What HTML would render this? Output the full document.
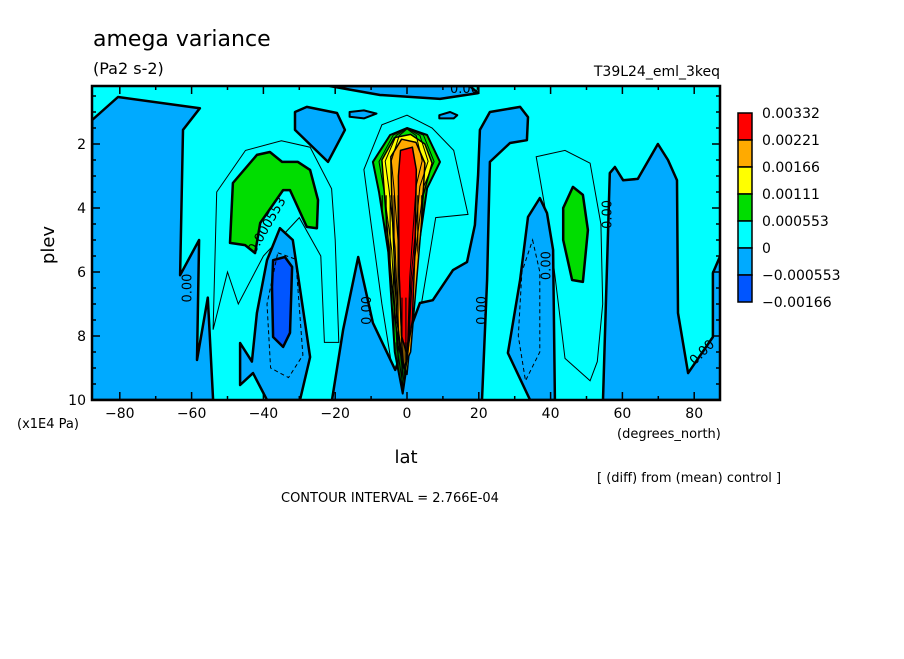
<!DOCTYPE html>
<html><head><meta charset="utf-8"><style>
body{margin:0;background:#fff;width:904px;height:654px;overflow:hidden}
svg text{font-family:"DejaVu Sans","Liberation Sans",sans-serif;fill:#000}
</style></head><body>
<svg id="chart" width="904" height="654" xmlns="http://www.w3.org/2000/svg">
<g id="plot"></g>
<g id="axes"></g>
<text x="93" y="46" font-size="22">amega variance</text>
<text x="93" y="74" font-size="16">(Pa2 s-2)</text>
<text x="720" y="76" font-size="14" text-anchor="end">T39L24_eml_3keq</text>
<text x="0" y="0" font-size="18" transform="translate(54,245) rotate(-90)" text-anchor="middle">plev</text>
<text x="17" y="428" font-size="13">(x1E4 Pa)</text>
<text x="617" y="438" font-size="13">(degrees_north)</text>
<text x="406" y="463" font-size="18" text-anchor="middle">lat</text>
<text x="597" y="482" font-size="13">[ (diff) from (mean) control ]</text>
<text x="281" y="502" font-size="13">CONTOUR INTERVAL = 2.766E-04</text>
<g id="legend"></g>
</svg>
<script>
const latTicks=[-80,-60,-40,-20,0,20,40,60,80];
const plevTicks=[2,4,6,8,10];
const legendLabels=["0.00332","0.00221","0.00166","0.00111","0.000553","0","\u22120.000553","\u22120.00166"];
const legendColors=["#ff0000","#ffaa00","#ffff00","#00dd00","#00ffff","#00aaff","#0055ff"];
const blueLeft=[[-87.7,1.25],[-80.5,0.53],[-57.7,0.88],[-62.4,1.56],[-63.2,6.1],[-57.9,5.0],[-58.5,8.75],[-55.5,6.8],[-54,10],[-88,10]];
const blueTopMid=[[-31.2,1.0],[-27.9,0.84],[-19.5,1.03],[-17.3,1.56],[-22,2.56],[-31.2,1.56]];
const blueS35=[[-35.4,4.63],[-31.8,5.0],[-27,8.66],[-29.8,10],[-39,10],[-42.9,9.16],[-46.5,9.53],[-46.5,8.22],[-43.2,8.8],[-41.8,7.28],[-39,5.63]];
const darkS35=[[-37.3,5.63],[-34,5.53],[-32,5.84],[-32.6,7.9],[-34.5,8.34],[-37.3,8.03],[-37.6,6.47]];
const blueCenter=[[-20.9,10],[-17.8,7.81],[-13.6,5.53],[-9.5,7.59],[-3.3,9.06],[3.6,6.97],[7.2,6.88],[12.8,5.94],[16.7,5.69],[18.9,4.53],[19.8,2.97],[20.3,1.56],[23.1,1.0],[31.5,0.84],[33.7,1.16],[33.4,1.88],[28.7,1.97],[23.1,2.56],[22.3,6.25],[20.9,10]];
const blueN35=[[37,3.69],[39,4.16],[40.7,5.31],[41.2,10],[34.3,10],[28.1,8.53],[31.5,6.25],[33.7,4.28]];
const blueRight=[[54.6,10],[56.5,2.91],[57.9,2.72],[60.2,3.13],[64.3,3.09],[69.9,2.0],[72.7,2.5],[75.2,3.13],[75.5,7.28],[78.3,9.16],[85.2,8.03],[85.2,6.03],[88,5.3],[88,10]];
const blueTop=[[-21.4,0.19],[17.5,0.19],[19.8,0.41],[9.2,0.59],[-7.5,0.47]];
const blueBlob1=[[-16,1.0],[-12,0.95],[-8.5,1.05],[-12,1.2],[-16,1.15]];
const blueBlob2=[[9,1.1],[12,1.0],[14,1.1],[13,1.2],[9,1.2]];
const greenS40=[[-49.3,5.09],[-48.5,3.22],[-41.8,2.34],[-38.2,2.25],[-34.8,2.56],[-30.4,2.56],[-27,2.81],[-24.8,3.75],[-25.1,4.63],[-27.9,4.59],[-32.6,3.44],[-34.5,3.44],[-40.9,4.47],[-42.3,5.41],[-45.1,5.16]];
const greenN47=[[46.2,3.34],[49,3.59],[50.4,4.69],[49,6.31],[46,6.25],[43.5,5.0],[43.5,4.0]];
const plumeGreen=[[-9.5,2.56],[-4.7,1.72],[0,1.5],[5.6,1.72],[9.2,2.56],[5.6,3.38],[3.1,5.31],[1.7,6.41],[0.5,8.5],[-1.2,9.8],[-3.4,8.5],[-5.2,5.38],[-7.8,3.5]];
const plumeYellow=[[-7,2.5],[-3.5,1.8],[1,1.7],[5,2.0],[7,2.6],[4.5,3.6],[3,5.5],[1.5,7.5],[0,9.2],[-2.5,8.3],[-4.5,6],[-6,4]];
const plumeOrange=[[-4.5,2.4],[-1.5,1.85],[2.5,1.95],[5,2.6],[4,4.5],[2.5,6.5],[1,8.5],[-1,9.0],[-2.8,7.5],[-3.8,5],[-4.3,3.5]];
const plumeRed=[[-1.8,2.2],[1.5,2.1],[2.6,2.8],[2.3,5],[1.5,7.5],[0,8.6],[-1.5,8],[-2.2,6],[-2.4,3]];
const thinS40=[[-54,7.8],[-53,3.5],[-45,2.2],[-35,1.9],[-27,2.1],[-21,3.4],[-20,5],[-19,8.2],[-23,8.2],[-24,5.5],[-30,4.3],[-40,5.5],[-47,7.0],[-50,6.0]];
const thinN45=[[36,2.4],[44,2.2],[51,2.6],[54,4.5],[54.5,7.0],[53,8.8],[51,9.4],[44,8.7],[40,5],[36,2.4]];
const thinPlume=[[-12,2.8],[-7,1.4],[0,1.1],[7,1.5],[13,2.2],[17,4.2],[8,4.3],[4,7],[1,9.7],[-3,9.8],[-7,7],[-10,4.5]];
const dashS35=[[-36,5.4],[-31,5.6],[-29,8.6],[-33,9.3],[-38,9.0],[-39,7]];
const dashN35=[[35,5.0],[37,6.0],[37,8.5],[33,9.4],[31,8.0],[32,6.0]];
const contourLabels=[{t:"0.00",lat:-60,p:6.5,r:-90},{t:"0.00",lat:22,p:7.2,r:-90},{t:"0.00",lat:40,p:5.8,r:-90},{t:"0.00",lat:57,p:4.2,r:-90},{t:"0.00",lat:83,p:8.6,r:-45},{t:"0.00",lat:16,p:0.4,r:0},{t:"0.000553",lat:-38,p:4.6,r:-60},{t:"0.00",lat:-10,p:7.2,r:-90}];

const X0=92,X1=720,Y0=86,Y1=400;
function xs(lat){return 407+lat*3.59;}
function ys(p){return 80+p*32;}
const NS="http://www.w3.org/2000/svg";
const plot=document.getElementById('plot');
function mk(tag,attrs,parent){const e=document.createElementNS(NS,tag);for(const k in attrs)e.setAttribute(k,attrs[k]);parent.appendChild(e);return e;}
function pts(arr){return arr.map(d=>xs(d[0]).toFixed(1)+','+ys(d[1]).toFixed(1)).join(' ');}
const defs=mk('defs',{},document.getElementById('chart'));
const cp=mk('clipPath',{id:'clip'},defs);
mk('rect',{x:X0,y:Y0,width:X1-X0,height:Y1-Y0},cp);
const cp2=mk('clipPath',{id:'plumeclip'},defs);
mk('polygon',{points:pts(plumeGreen)},cp2);
plot.setAttribute('clip-path','url(#clip)');
const bg=mk('rect',{x:X0,y:Y0,width:X1-X0,height:Y1-Y0,fill:'#00ffff'},plot);


function region(arr,fill,name,sw){
  const e=mk('polygon',{points:pts(arr),fill:fill,stroke:'#000','stroke-width':sw,'stroke-linejoin':'round'},plot);
  
  
  return e;
}
function line(arr,name,dash,sw){
  const e=mk('polygon',{points:pts(arr),fill:'none',stroke:'#000','stroke-width':sw||1,'stroke-dasharray':dash||'none'},plot);
  
  
}
line(thinS40,'contour-thin-south','',1);
line(thinN45,'contour-thin-north','',1);
line(thinPlume,'contour-thin-plume','',1);
region(blueLeft,'#00aaff','negative-region-polar-south',2.5);
region(blueTopMid,'#00aaff','negative-region-upper-south',2.5);
region(blueS35,'#00aaff','negative-region-south-35',2.5);
region(darkS35,'#0055ff','strong-negative-region-south-35',2.5);
region(blueCenter,'#00aaff','negative-region-center',2.5);
region(blueN35,'#00aaff','negative-region-north-35',2.5);
region(blueRight,'#00aaff','negative-region-polar-north',2.5);
region(blueTop,'#00aaff','negative-region-top',2.5);
region(blueBlob1,'#00aaff','negative-blob-1',2);
region(blueBlob2,'#00aaff','negative-blob-2',2);
line(dashS35,'contour-dashed-south','4,3',1);
line(dashN35,'contour-dashed-north','4,3',1);
region(greenS40,'#00dd00','positive-region-south-40',2.5);
region(greenN47,'#00dd00','positive-region-north-47',2.5);
region(plumeGreen,'#00dd00','plume-green',2);
region(plumeYellow,'#ffff00','plume-yellow',1.5);
region(plumeOrange,'#ffaa00','plume-orange',1.5);
region(plumeRed,'#ff0000','plume-red',1.5);
const hatch=mk('g',{'clip-path':'url(#plumeclip)'},plot);


for(let lat=-8;lat<=8;lat+=1.1){
  const top=(Math.abs(lat)<2.4)?6.8:3.6;
  mk('line',{x1:xs(lat),x2:xs(lat),y1:ys(top),y2:ys(10),stroke:'#000','stroke-width':1.1},hatch);
}
mk('rect',{x:xs(-3.5),y:ys(8.2),width:xs(1.5)-xs(-3.5),height:ys(10)-ys(8.2),fill:'#000',opacity:0.5},hatch);
for(let i=1;i<=3;i++){
  const s=1-i*0.18;
  const arr=plumeGreen.map(d=>[d[0]*s,2+(d[1]-2)*(1-i*0.02)]);
  line(arr,'plume-contour-'+i,'',1);
}
contourLabels.forEach(c=>{
  const t=mk('text',{x:xs(c.lat),y:ys(c.p),'font-size':13,'text-anchor':'middle',transform:`rotate(${c.r},${xs(c.lat)},${ys(c.p)})`},plot);
  t.textContent=c.t;
  
  
});
const axes=document.getElementById('axes');
const fr=mk('rect',{x:X0,y:Y0,width:X1-X0,height:Y1-Y0,fill:'none',stroke:'#000','stroke-width':2.5},axes);


for(let lat=-80;lat<=80;lat+=10){
  const big=lat%20===0;
  mk('line',{x1:xs(lat),x2:xs(lat),y1:Y1,y2:Y1-(big?8:4),stroke:'#000','stroke-width':1.5},axes);
  mk('line',{x1:xs(lat),x2:xs(lat),y1:Y0,y2:Y0+(big?8:4),stroke:'#000','stroke-width':1.5},axes);
}
for(let p=0.5;p<=10;p+=0.5){
  if(ys(p)<Y0)continue;
  const big=p%2===0;
  mk('line',{x1:X0,x2:X0+(big?8:4),y1:ys(p),y2:ys(p),stroke:'#000','stroke-width':1.5},axes);
  mk('line',{x1:X1,x2:X1-(big?8:4),y1:ys(p),y2:ys(p),stroke:'#000','stroke-width':1.5},axes);
}
latTicks.forEach(v=>{
  const t=mk('text',{x:xs(v),y:418,'font-size':14,'text-anchor':'middle'},axes);
  t.textContent=v<0?'\u2212'+Math.abs(v):String(v);
  
  
});
plevTicks.forEach(v=>{
  const t=mk('text',{x:86,y:ys(v)+5,'font-size':14,'text-anchor':'end'},axes);
  t.textContent=String(v);
  
  
});
const leg=document.getElementById('legend');
const LX=738,LT=113,LH=27;
legendColors.forEach((c,i)=>{
  const r=mk('rect',{x:LX,y:LT+i*LH,width:14,height:LH,fill:c,stroke:'#000','stroke-width':1.5},leg);
  
  
});
legendLabels.forEach((s,i)=>{
  const t=mk('text',{x:762,y:LT+i*LH+5,'font-size':14},leg);
  t.textContent=s;
  
  
});
</script>
</body></html>
